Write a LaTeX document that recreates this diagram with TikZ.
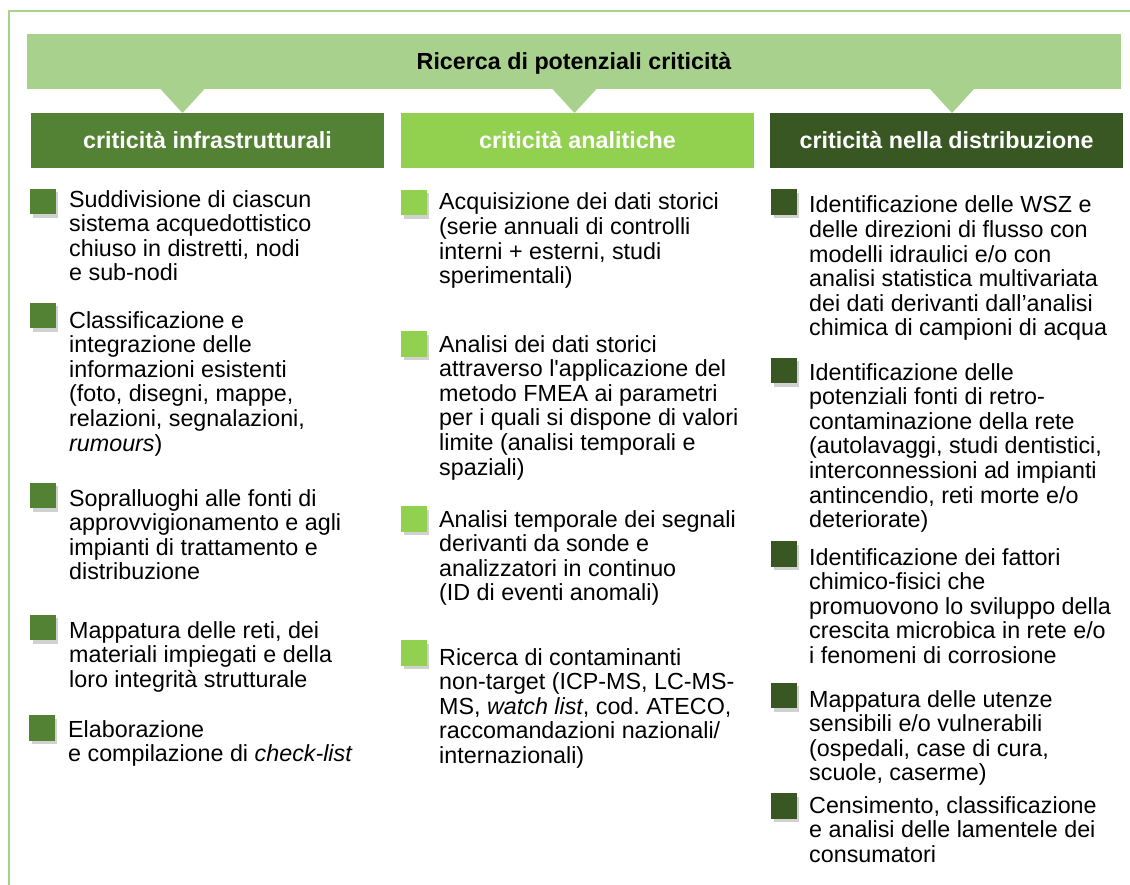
\documentclass[tikz,border=0pt]{standalone}
\usepackage{fontspec}
\setmainfont{Liberation Sans}
\frenchspacing
\usetikzlibrary{shadows,calc}
\definecolor{pale}{HTML}{A9D18E}
\definecolor{infra}{HTML}{548235}
\definecolor{anali}{HTML}{92D050}
\definecolor{distr}{HTML}{385723}
\tikzset{
  head/.style={minimum height=55pt,inner sep=0pt,text height=16.5pt,text depth=0pt,
    font=\fontsize{23.3}{24.6}\selectfont\bfseries},
  sq/.style={minimum size=25.5pt,inner sep=0pt,fill=#1,
    drop shadow={shadow xshift=2.5pt,shadow yshift=-3.5pt,fill=black,opacity=0.18}},
  % anchored on the baseline of the last line
  txt/.style={anchor=base west,align=left,inner sep=0pt,font=\fontsize{23.3}{24.6}\selectfont},
}
\begin{document}
\begin{tikzpicture}[x=1pt,y=-1pt]
  \useasboundingbox (0,0) rectangle (1130,885);
  \draw[pale,line width=1.5pt] (9,885) -- (9,11) -- (1130,11);
  % banner and pointers
  \node[head,fill=pale,minimum width=1094pt] (title) at (574,61.5) {Ricerca di potenziali criticità};
  \foreach \px in {182.5,574.5,952}
    \fill[pale] ({\px-22.5},88.5) -- (\px,113) -- ({\px+22.5},88.5) -- cycle;
  \node[head,fill=infra,text=white,minimum width=353pt] (hdrA) at (207.5,140.5) {criticità infrastrutturali};
  \node[head,fill=anali,text=white,minimum width=353pt] (hdrB) at (577.5,140.5) {criticità analitiche};
  \node[head,fill=distr,text=white,minimum width=353pt] (hdrC) at (946.5,140.5) {criticità nella distribuzione};
  % infrastrutturali
  \node[sq=infra] (a1) at (43,201.5) {};
  \node[txt] (ta1) at (69,280.8) {Suddivisione di ciascun\\sistema acquedottistico\\chiuso in distretti, nodi\\e sub-nodi};
  \node[sq=infra] (a2) at (43,315.5) {};
  \node[txt] (ta2) at (69,451) {Classificazione e\\integrazione delle\\informazioni esistenti\\(foto, disegni, mappe,\\relazioni, segnalazioni,\\\textit{rumours})};
  \node[sq=infra] (a3) at (43,495.5) {};
  \node[txt] (ta3) at (69,579.8) {Sopralluoghi alle fonti di\\approvvigionamento e agli\\impianti di trattamento e\\distribuzione};
  \node[sq=infra] (a4) at (43,627.5) {};
  \node[txt] (ta4) at (69,687.2) {Mappatura delle reti, dei\\materiali impiegati e della\\loro integrità strutturale};
  \node[sq=infra] (a5) at (42,728) {};
  \node[txt] (ta5) at (68,761.6) {Elaborazione\\e compilazione di \textit{check-list}};
  % analitiche
  \node[sq=anali] (b1) at (414,202.5) {};
  \node[txt] (tb1) at (439,283.8) {Acquisizione dei dati storici\\(serie annuali di controlli\\interni + esterni, studi\\sperimentali)};
  \node[sq=anali] (b2) at (414,344) {};
  \node[txt] (tb2) at (439,475) {Analisi dei dati storici\\attraverso l\textquotesingle applicazione del\\metodo FMEA ai parametri\\per i quali si dispone di valori\\limite (analisi temporali e\\spaziali)};
  \node[sq=anali] (b3) at (414,519) {};
  \node[txt] (tb3) at (439,600.8) {Analisi temporale dei segnali\\derivanti da sonde e\\analizzatori in continuo\\(ID di eventi anomali)};
  \node[sq=anali] (b4) at (414,653) {};
  \node[txt] (tb4) at (439,763.4) {Ricerca di contaminanti\\non-target (ICP-MS, LC-MS-\\MS, \textit{watch list}, cod. ATECO,\\raccomandazioni nazionali/\\internazionali)};
  % distribuzione
  \node[sq=distr] (c1) at (784,202) {};
  \node[txt] (tc1) at (809,336) {Identificazione delle WSZ e\\delle direzioni di flusso con\\modelli idraulici e/o con\\analisi statistica multivariata\\dei dati derivanti dall’analisi\\chimica di campioni di acqua};
  \node[sq=distr] (c2) at (784,370.5) {};
  \node[txt] (tc2) at (809,527.6) {Identificazione delle\\potenziali fonti di retro-\\contaminazione della rete\\(autolavaggi, studi dentistici,\\interconnessioni ad impianti\\antincendio, reti morte e/o\\deteriorate)};
  \node[sq=distr] (c3) at (784,554) {};
  \node[txt] (tc3) at (809,663.4) {Identificazione dei fattori\\chimico-fisici che\\promuovono lo sviluppo della\\crescita microbica in rete e/o\\i fenomeni di corrosione};
  \node[sq=distr] (c4) at (784,695.5) {};
  \node[txt] (tc4) at (809,780.8) {Mappatura delle utenze\\sensibili e/o vulnerabili\\(ospedali, case di cura,\\scuole, caserme)};
  \node[sq=distr] (c5) at (784,806) {};
  \node[txt] (tc5) at (809,862.2) {Censimento, classificazione\\e analisi delle lamentele dei\\consumatori};
\end{tikzpicture}
\end{document}
